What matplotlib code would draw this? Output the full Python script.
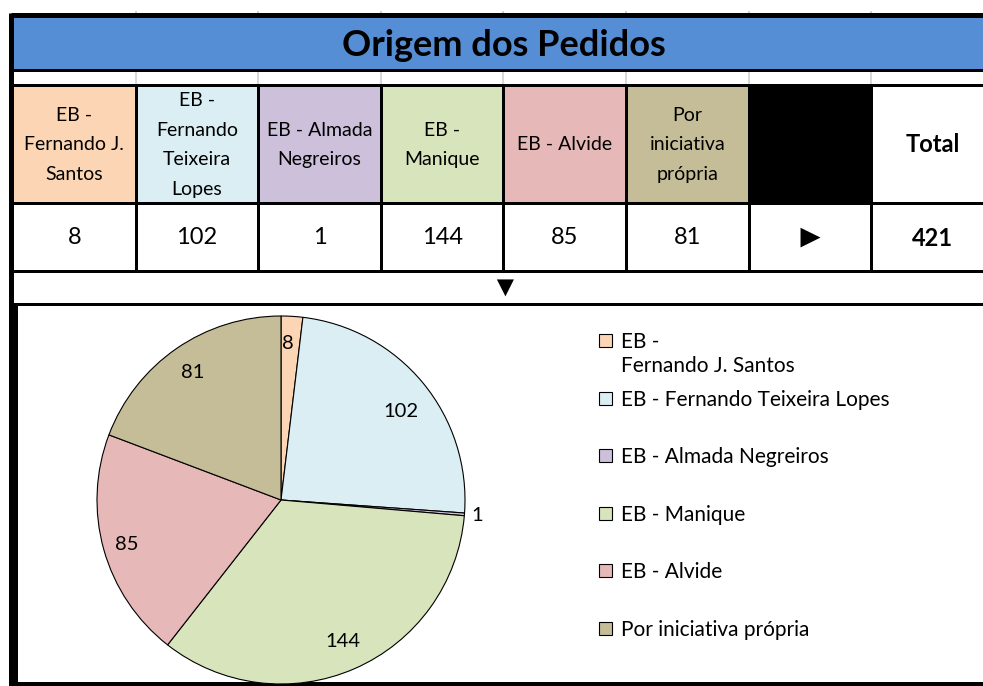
import numpy as np
import matplotlib
matplotlib.use("Agg")
import matplotlib.pyplot as plt
from matplotlib.patches import Rectangle

plt.rcParams['font.family'] = ['Lato', 'DejaVu Sans']

# dados do quadro
titulo = "Origem dos Pedidos"
cabecalhos = ["EB -\nFernando J.\nSantos", "EB -\nFernando\nTeixeira\nLopes",
              "EB - Almada\nNegreiros", "EB -\nManique", "EB - Alvide",
              "Por\niniciativa\nprópria"]
legenda = ["EB -\nFernando J. Santos", "EB - Fernando Teixeira Lopes",
           "EB - Almada Negreiros", "EB - Manique", "EB - Alvide",
           "Por iniciativa própria"]
pedidos = [8, 102, 1, 144, 85, 81]
cores = ["#FCD5B4", "#DAEEF3", "#CCC0DA", "#D8E4BC", "#E6B8B7", "#C4BD97"]
total = sum(pedidos)

W, H = 983, 686
fig = plt.figure(figsize=(W / 100, H / 100), dpi=100)
lay = fig.add_axes([0, 0, 1, 1])
lay.set_xlim(0, W)
lay.set_ylim(H, 0)
lay.axis('off')

x0 = 13
cw = 122.6
px = 72 / 100  # px -> pt
simbolos = ['Liberation Sans', 'DejaVu Sans']

# barra do titulo
lay.add_patch(Rectangle((x0, 17), W, 52, color="#558ED5", lw=0))
lay.text(504, 45, titulo, ha='center', va='center', fontsize=26,
         fontweight='bold')

# linha de cabecalhos
n = len(cabecalhos)
for i in range(n + 2):
    xl = x0 + i * cw
    if i < n:
        fc = cores[i]
    elif i == n:
        fc = 'black'
    else:
        fc = 'white'
    lay.add_patch(Rectangle((xl, 85), cw, 118, color=fc, lw=0))
    if i < n:
        lay.text(xl + cw / 2, 145, cabecalhos[i], ha='center', va='center',
                 fontsize=14, linespacing=1.9)
        lay.text(xl + cw / 2, 238, str(pedidos[i]), ha='center',
                 va='center', fontsize=17)
    elif i == n:
        lay.text(xl + cw / 2, 238, "►", ha='center', va='center',
                 fontsize=24, family=simbolos)
    else:
        lay.text(xl + cw / 2, 144, "Total", ha='center', va='center',
                 fontsize=17, fontweight='bold')
        lay.text(xl + cw / 2, 238, str(total), ha='center', va='center',
                 fontsize=17, fontweight='bold')

lay.text(505, 288, "▼", ha='center', va='center', fontsize=21,
         family=simbolos)

# linhas da grelha
for i in range(1, n + 2):
    xl = x0 + i * cw
    lay.plot([xl, xl], [12, 17], color='#BBBBBB', lw=1.5 * px)
    lay.plot([xl, xl], [70, 85], color='#CCCCCC', lw=1.5 * px)
    lay.plot([xl, xl], [85, 271], color='black', lw=3 * px)
for y, lw in [(15, 5), (69.5, 3), (84.5, 3), (202.5, 3), (270.5, 3),
              (304, 3), (684, 4)]:
    lay.plot([x0 - 2, W], [y, y], color='black', lw=lw * px,
             solid_capstyle='butt')
lay.plot([11, 11], [13, H], color='black', lw=5 * px, solid_capstyle='butt')
lay.plot([15, 15], [304, H], color='black', lw=5 * px, solid_capstyle='butt')

# legenda
for i, (lab, c) in enumerate(zip(legenda, cores)):
    yc = 341 + i * 57.6
    lay.add_patch(Rectangle((599, yc - 7), 13, 13, facecolor=c,
                            edgecolor='black', lw=0.8))
    lay.text(621, yc - 9, lab, ha='left', va='top', fontsize=15,
             linespacing=1.25)

# grafico circular
cx, cy, r = 281, 500, 184
pie_ax = fig.add_axes([(cx - r) / W, (H - cy - r) / H, 2 * r / W, 2 * r / H])
wedges, texts, autotexts = pie_ax.pie(
    pedidos, colors=cores, startangle=90, counterclock=False,
    wedgeprops=dict(edgecolor='black', linewidth=0.8),
    autopct=lambda p: f"{p * total / 100:.0f}", pctdistance=0.84,
    textprops=dict(fontsize=14.5))
pie_ax.set_xlim(-1, 1)
pie_ax.set_ylim(-1, 1)
pie_ax.set_aspect('equal')

# rotulo da fatia pequena fora do circulo
w = wedges[2]
ang = np.deg2rad((w.theta1 + w.theta2) / 2)
autotexts[2].set_position((1.07 * np.cos(ang), 1.07 * np.sin(ang)))
autotexts[0].set_position((0.04, 0.85))
autotexts[1].set_position((0.65, 0.48))
autotexts[4].set_position((-0.84, -0.24))

fig.savefig("out.png", dpi=100)
